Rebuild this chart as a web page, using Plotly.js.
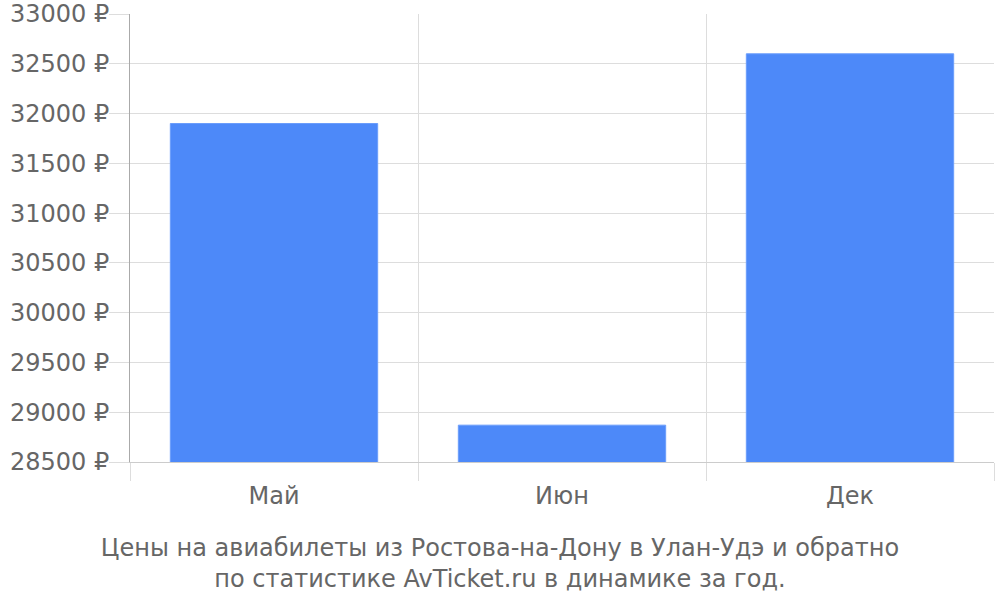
<!DOCTYPE html>
<html><head><meta charset="utf-8">
<script src="https://cdn.plot.ly/plotly-3.0.1.min.js"></script>
<style>html,body{margin:0;padding:0;background:#fff}</style>
</head><body>
<div id="chart" style="width:1000px;height:600px"></div>
<script>
const months = ["Май", "Июн", "Дек"];
const prices = [31900, 28870, 32600];
const titleLines = ["Цены на авиабилеты из Ростова-на-Дону в Улан-Удэ и обратно", "по статистике AvTicket.ru в динамике за год."];

const font = {family: "DejaVu Sans, sans-serif", size: 24, color: "#666"};
Plotly.newPlot("chart", [{
  type: "bar",
  x: months,
  y: prices,
  width: 0.72,
  marker: {color: "#4d89f9", line: {color: "#6b9dfb", width: 1}},
  hoverinfo: "x+y"
}], {
  width: 1000, height: 600,
  margin: {l: 130, r: 6, t: 14, b: 138},
  paper_bgcolor: "#fff", plot_bgcolor: "#fff",
  font: font,
  showlegend: false,
  title: {text: titleLines.join("<br>"), font: {family: font.family, size: 24, color: "#666"},
          x: 0.5, xref: "container", xanchor: "center", y: 0.073, yref: "container", yanchor: "middle"},
  xaxis: {type: "category", tickson: "boundaries", ticks: "outside", ticklen: 18, tickcolor: "#ddd",
          showgrid: true, gridcolor: "#ddd", gridwidth: 1, showline: true, linecolor: "#ccc",
          tickfont: font, zeroline: false, ticklabelstandoff: 12},
  yaxis: {range: [28500, 33000], dtick: 500, tick0: 28500, ticksuffix: " ₽", ticks: "outside", ticklen: 20,
          tickcolor: "#ddd", showgrid: true, gridcolor: "#ddd", showline: true, linecolor: "#aaa",
          tickfont: font, zeroline: false, tickformat: "d", ticklabelstandoff: -5}
}, {displayModeBar: false, staticPlot: true});
</script>
</body></html>
